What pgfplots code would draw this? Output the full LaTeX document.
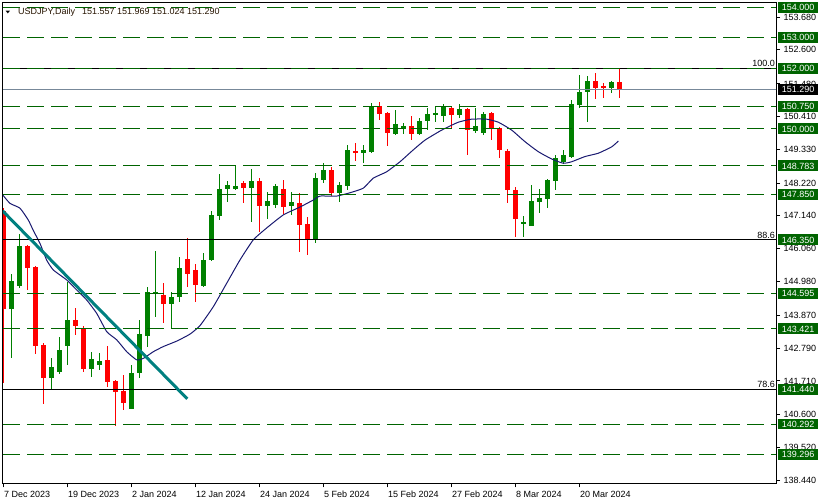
\documentclass[border=0pt]{standalone}
\usepackage{fontspec}
\setmainfont{Liberation Sans}
\newfontfamily\dejavu{DejaVu Sans}
\usepackage{pgfplots}
\usepackage{pgfplotstable}
\pgfplotsset{compat=1.18}
\definecolor{cgreen}{RGB}{0,128,0}
\definecolor{cred}{RGB}{255,0,0}
\definecolor{lvl}{RGB}{0,100,0}
\definecolor{ma}{RGB}{25,25,112}
\definecolor{tl}{RGB}{0,128,128}
\definecolor{cur}{RGB}{119,136,153}

\pgfplotstableread{
i O H L C
1 144.07 145.22 142.47 144.99
2 144.83 146.56 144.76 146.16
6 141.81 142.45 141.43 142.16
7 142.01 143.17 141.95 142.72
8 142.87 144.97 142.23 143.71
11 142.10 142.66 141.85 142.42
12 142.23 142.64 142.07 142.36
16 140.79 142.23 140.77 141.98
17 141.98 143.71 141.82 143.27
18 143.20 144.81 142.84 144.62
19 144.58 145.99 143.80 144.62
21 144.23 144.62 143.42 144.48
22 144.46 145.80 144.30 145.44
25 144.83 145.91 144.80 145.69
26 145.69 147.30 145.65 147.17
27 147.14 148.51 147.00 148.04
28 148.03 148.29 147.61 148.15
29 148.03 148.77 147.99 148.12
31 148.07 148.67 146.95 148.29
33 147.47 147.91 147.04 147.63
34 147.50 148.19 147.39 148.12
36 147.47 147.91 147.17 147.60
39 146.39 148.54 146.24 148.38
40 148.32 148.89 148.23 148.65
42 147.90 148.25 147.60 148.17
43 148.13 149.47 147.99 149.31
45 149.22 149.47 148.89 149.31
46 149.25 150.84 149.22 150.75
49 149.84 150.62 149.80 150.16
50 150.00 150.20 149.83 150.10
52 149.83 150.37 149.80 150.26
53 150.26 150.68 149.96 150.49
54 150.48 150.75 150.24 150.52
55 150.43 150.82 150.24 150.71
57 150.46 150.82 150.35 150.65
59 149.94 150.70 149.87 150.10
60 149.87 150.55 149.80 150.49
65 146.89 147.13 146.45 146.95
66 146.82 148.15 146.80 147.63
67 147.61 148.02 147.22 147.74
68 147.69 148.35 147.41 148.32
69 148.30 149.14 147.99 149.03
70 148.92 149.31 148.85 149.14
71 149.09 150.95 149.05 150.82
72 150.79 151.77 150.68 151.20
73 151.20 151.74 150.22 151.58
76 151.36 151.58 151.17 151.53
}\bull

\pgfplotstableread{
i O H L C
0 147.29 147.40 141.63 144.07
3 146.15 146.18 144.70 145.43
4 145.45 145.50 142.60 142.87
5 142.89 142.95 140.96 141.81
9 143.71 144.12 143.22 143.52
10 143.46 143.52 141.99 142.10
13 142.40 142.87 141.52 141.68
14 141.71 141.75 140.24 141.36
15 141.38 141.90 140.75 140.99
20 144.54 144.92 143.62 144.23
23 145.71 146.41 144.81 145.22
24 145.36 145.56 144.32 144.86
30 148.22 148.30 147.57 148.07
32 148.29 148.38 146.62 147.47
35 148.02 148.32 147.20 147.44
37 147.55 147.88 145.96 146.84
38 146.87 147.10 145.85 146.39
41 148.65 148.76 147.79 147.90
44 149.27 149.55 148.95 149.22
47 150.75 150.88 150.29 150.49
48 150.51 150.55 149.44 149.88
51 150.10 150.43 149.63 149.84
56 150.68 150.75 150.04 150.46
58 150.65 150.69 149.14 149.96
61 150.51 150.55 149.63 150.00
62 150.02 150.07 149.05 149.31
63 149.27 149.34 147.55 147.99
64 147.99 148.08 146.45 147.04
74 151.58 151.85 150.97 151.36
75 151.41 151.50 151.01 151.36
77 151.557 151.969 151.024 151.290
}\bear

\begin{document}
\begin{tikzpicture}
\begin{axis}[
  at={(3bp,20.7bp)}, anchor=south west,
  scale only axis, width=773bp, height=480.8bp,
  xmin=-0.0875, xmax=96.54, ymin=138.342, ymax=154.158,
  axis line style={line width=1bp, black},
  tick style={line width=1bp, black},
  major tick length=4bp,
  tick align=outside,
  xtick={0,8,...,72},
  xticklabels={7 Dec 2023,19 Dec 2023,2 Jan 2024,12 Jan 2024,24 Jan 2024,5 Feb 2024,15 Feb 2024,27 Feb 2024,8 Mar 2024,20 Mar 2024},
  xtick pos=left,
  ytick pos=right,
  yticklabel pos=right,
  ytick={138.44,139.52,140.6,141.71,142.79,143.87,144.98,146.06,147.14,148.22,149.33,150.41,151.48,152.6,153.68},
  yticklabels={138.440,139.520,140.600,141.710,142.790,143.870,144.980,146.060,147.140,148.220,149.330,150.410,151.480,152.600,153.680},
  every tick label/.append style={font=\fontsize{9bp}{10bp}\selectfont, text=black},
  xticklabel style={anchor=north west, xshift=-3bp},
  clip=true,
  candle/.style={draw=none, no markers, forget plot, error bars/.cd, y dir=both, y explicit, error mark=none},
]
% wicks
\addplot[candle, error bar style={line width=1bp, draw=cgreen}]
  table[x=i, y expr={(\thisrow{H}+\thisrow{L})/2}, y error expr={(\thisrow{H}-\thisrow{L})/2}] {\bull};
\addplot[candle, error bar style={line width=1bp, draw=cred}]
  table[x=i, y expr={(\thisrow{H}+\thisrow{L})/2}, y error expr={(\thisrow{H}-\thisrow{L})/2}] {\bear};
% bodies
\addplot[candle, error bar style={line width=5bp, draw=cgreen}]
  table[x=i, y expr={(\thisrow{O}+\thisrow{C})/2}, y error expr={max(abs(\thisrow{C}-\thisrow{O})/2,0.017)}] {\bull};
\addplot[candle, error bar style={line width=5bp, draw=cred}]
  table[x=i, y expr={(\thisrow{O}+\thisrow{C})/2}, y error expr={max(abs(\thisrow{C}-\thisrow{O})/2,0.017)}] {\bear};
% moving average
\addplot[ma, line width=1bp, smooth, tension=0.3] coordinates {
(-0.13,147.83) (0.79,147.55) (2.04,147.39) (3.08,147.00) (3.7,146.66) (4.54,146.23) (5.38,145.68) (6.2,145.36) (7.88,145.03) (9.13,144.70) (10.38,144.37) (11.63,143.93) (12.88,143.33) (14.13,143.06) (15.38,142.67) (16.63,142.40) (17.45,142.45) (18.7,142.67) (19.95,142.84) (21.63,143.02) (23.29,143.25) (24.54,143.53) (26.2,144.15) (27.87,144.92) (29.54,145.69) (31.2,146.35) (32.87,146.74) (34.95,147.17) (37.04,147.43) (38.7,147.66) (39.54,147.79) (41.62,147.79) (43.29,147.90) (44.95,148.05) (46.2,148.38) (47.87,148.59) (49.54,148.92) (51.2,149.31) (52.66,149.63) (54.75,149.96) (56.83,150.22) (58.5,150.32) (60.37,150.32) (61.83,150.22) (63.5,149.96) (65.16,149.58) (66.83,149.25) (68.5,149.01) (69.95,148.87) (71.0,148.92) (72.66,149.09) (74.33,149.20) (76.0,149.41) (76.83,149.60)};
% fibonacci solid lines
\addplot[black, line width=1bp] coordinates {(-0.0875,152) (96.54,152)};
\addplot[black, line width=1bp] coordinates {(-0.0875,146.35) (96.54,146.35)};
\addplot[black, line width=1bp] coordinates {(-0.0875,141.44) (96.54,141.44)};
% dashed levels
\pgfplotsinvokeforeach{154,153,152,150.75,150,148.783,147.85,144.595,143.421,140.292,139.296}{
  \addplot[lvl, line width=1bp, dash pattern=on 17bp off 7bp] coordinates {(-0.0875,#1) (96.54,#1)};
}
% current price
\addplot[cur, line width=1bp] coordinates {(-0.0875,151.29) (96.54,151.29)};
% trend line
\addplot[tl, line width=3bp] coordinates {(-0.125,147.30) (22.95,141.12)};
% fibo labels
\node[anchor=south east, inner sep=1bp, font=\fontsize{9bp}{10bp}\selectfont] at (axis cs:96.54,152) {100.0};
\node[anchor=south east, inner sep=1bp, font=\fontsize{9bp}{10bp}\selectfont] at (axis cs:96.54,146.35) {88.6};
\node[anchor=south east, inner sep=1bp, font=\fontsize{9bp}{10bp}\selectfont] at (axis cs:96.54,141.44) {78.6};
% anchor coordinates for price boxes
\coordinate (b1) at (axis cs:96.54,154);
\coordinate (b2) at (axis cs:96.54,153);
\coordinate (b3) at (axis cs:96.54,152);
\coordinate (b4) at (axis cs:96.54,150.75);
\coordinate (b5) at (axis cs:96.54,150);
\coordinate (b6) at (axis cs:96.54,148.783);
\coordinate (b7) at (axis cs:96.54,147.85);
\coordinate (b8) at (axis cs:96.54,146.35);
\coordinate (b9) at (axis cs:96.54,144.595);
\coordinate (b10) at (axis cs:96.54,143.421);
\coordinate (b11) at (axis cs:96.54,141.44);
\coordinate (b12) at (axis cs:96.54,140.292);
\coordinate (b13) at (axis cs:96.54,139.296);
\coordinate (bc) at (axis cs:96.54,151.29);
\end{axis}
\tikzset{pbox/.style={anchor=west, fill=lvl, text=white, inner xsep=0pt, inner ysep=2.2bp,
  minimum width=40bp, text height=6.5bp, text depth=0bp, font=\fontsize{9bp}{10bp}\selectfont}}
\node[pbox] at ([xshift=2bp]b1) {154.000};
\node[pbox] at ([xshift=2bp]b2) {153.000};
\node[pbox] at ([xshift=2bp]b3) {152.000};
\node[pbox] at ([xshift=2bp]b4) {150.750};
\node[pbox] at ([xshift=2bp]b5) {150.000};
\node[pbox] at ([xshift=2bp]b6) {148.783};
\node[pbox] at ([xshift=2bp]b7) {147.850};
\node[pbox] at ([xshift=2bp]b8) {146.350};
\node[pbox] at ([xshift=2bp]b9) {144.595};
\node[pbox] at ([xshift=2bp]b10) {143.421};
\node[pbox] at ([xshift=2bp]b11) {141.440};
\node[pbox] at ([xshift=2bp]b12) {140.292};
\node[pbox] at ([xshift=2bp]b13) {139.296};
\node[pbox, fill=black] at ([xshift=2bp]bc) {151.290};
% title
\node[anchor=base west, inner sep=0pt] at (5.5bp,490.5bp) {\dejavu\fontsize{6bp}{6bp}\selectfont\scalebox{1}[0.6]{▼}};
\node[anchor=base west, inner sep=0pt, font=\fontsize{9bp}{10bp}\selectfont, text=black!85!orange] at (18bp,489.7bp) {USDJPY,Daily\hspace{7bp}151.557 151.969 151.024 151.290};
\pgfresetboundingbox
\path (0,0) rectangle (822bp,504bp);
\end{tikzpicture}
\end{document}
